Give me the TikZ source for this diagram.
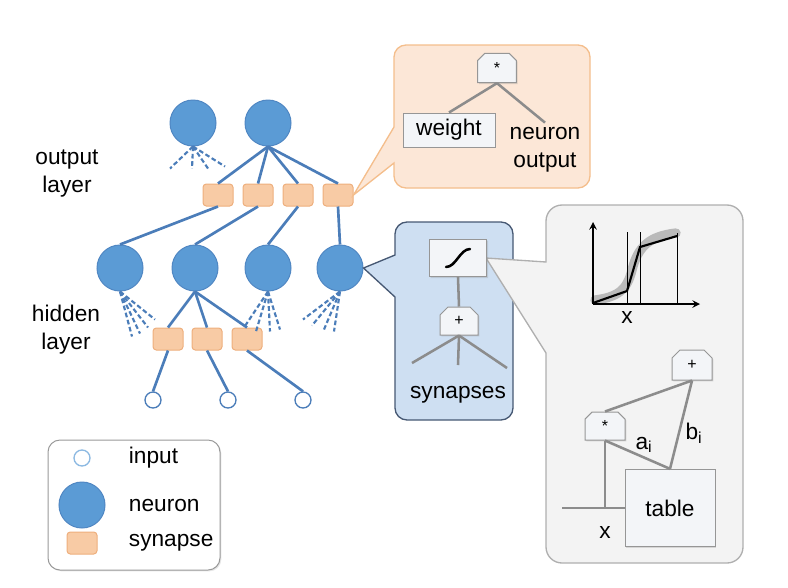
\documentclass[tikz,border=0pt]{standalone}
\usepackage{fontspec}
\setmainfont{Liberation Sans}
\usetikzlibrary{shapes.misc,shadows,calc}

\definecolor{neuronblue}{RGB}{91,155,213}
\definecolor{neuronedge}{RGB}{80,135,195}
\definecolor{linkblue}{RGB}{75,125,185}
\definecolor{synfill}{RGB}{248,203,165}
\definecolor{synedge}{RGB}{238,175,125}
\definecolor{orangefill}{RGB}{252,231,215}
\definecolor{orangeedge}{RGB}{244,190,140}
\definecolor{bluefill}{RGB}{206,223,242}
\definecolor{blueedge}{RGB}{70,88,115}
\definecolor{grayfill}{RGB}{243,243,243}
\definecolor{grayedge}{RGB}{175,175,175}
\definecolor{opfill}{RGB}{243,245,248}
\definecolor{opedge}{RGB}{150,150,150}
\definecolor{graylink}{RGB}{140,140,140}

\tikzset{every picture/.style={line width=0.75pt}}
\tikzset{
  neuron/.style={circle, fill=neuronblue, draw=neuronedge, minimum size=34.5pt, inner sep=0pt},
  inputcell/.style={circle, fill=white, draw=linkblue, line width=1pt, minimum size=12pt, inner sep=0pt},
  synapse/.style={rectangle, rounded corners=2.5pt, fill=synfill, draw=synedge, minimum width=22.5pt, minimum height=16.5pt, inner sep=0pt},
  link/.style={draw=linkblue, line width=2pt},
  stub/.style={draw=linkblue, line width=1.6pt, dash pattern=on 3.5pt off 2pt},
  opbox/.style={chamfered rectangle, chamfered rectangle corners={north west,north east}, chamfered rectangle xsep=3pt, chamfered rectangle ysep=3pt, fill=opfill, draw=opedge, minimum width=29pt, minimum height=22pt, inner sep=0pt, font=\fontsize{12}{14}\selectfont, drop shadow={opacity=0.25, shadow xshift=1pt, shadow yshift=-1pt}},
  plainbox/.style={rectangle, fill=opfill, draw=opedge, inner sep=0pt, drop shadow={opacity=0.25, shadow xshift=1pt, shadow yshift=-1pt}},
  oplink/.style={draw=graylink, line width=1.9pt},
  orangecall/.style={fill=orangefill, draw=orangeedge, line width=1pt},
  bluecall/.style={fill=bluefill, draw=blueedge, line width=1pt},
  graycall/.style={fill=grayfill, draw=grayedge, line width=1pt},
}

\begin{document}
\begin{tikzpicture}[x=0.75pt,y=0.75pt,yscale=-1,xscale=1, font=\fontsize{17}{21}\selectfont]
\useasboundingbox (0,0) rectangle (788,587);

% Neurons and synapses
\node[neuron] (out1) at (193,123) {};
\node[neuron] (out2) at (268,123) {};
\node[synapse] (syn1) at (218,195) {};
\node[synapse] (syn2) at (258,195) {};
\node[synapse] (syn3) at (298,195) {};
\node[synapse] (syn4) at (338,195) {};
\node[neuron] (hid1) at (120,268) {};
\node[neuron] (hid2) at (195,268) {};
\node[neuron] (hid3) at (268,268) {};
\node[neuron] (hid4) at (340,268) {};
\node[synapse] (hsyn1) at (168,339) {};
\node[synapse] (hsyn2) at (207,339) {};
\node[synapse] (hsyn3) at (247,339) {};
\node[inputcell] (in1) at (153,400) {};
\node[inputcell] (in2) at (228,400) {};
\node[inputcell] (in3) at (303,400) {};

% Links
\foreach \s in {syn1,syn2,syn3,syn4} \draw[link] (out2.south) -- (\s.north);
\draw[link] (syn1.south) -- (hid1.north);
\draw[link] (syn2.south) -- (hid2.north);
\draw[link] (syn3.south) -- (hid3.north);
\draw[link] (syn4.south) -- (hid4.north);
\foreach \s in {hsyn1,hsyn2,hsyn3} \draw[link] (hid2.south) -- (\s.north);
\draw[link] (hsyn1.south) -- (in1.north);
\draw[link] (hsyn2.south) -- (in2.north);
\draw[link] (hsyn3.south) -- (in3.north);

% Dashed stubs
\foreach \dx/\dy in {-23/22,-1/22,15/22,32/20} \draw[stub] (out1.south) -- ++(\dx,\dy);
\foreach \dx/\dy in {12/45,20/42,28/36,35/28} \draw[stub] (hid1.south) -- ++(\dx,\dy);
\foreach \dx/\dy in {-24/36,-12/40,2/40,12/38} \draw[stub] (hid3.south) -- ++(\dx,\dy);
\foreach \dx/\dy in {-37/28,-28/34,-16/38,-6/40} \draw[stub] (hid4.south) -- ++(\dx,\dy);

% Text Node
\node[align=center] (outlbl) at (67,174) {output\\layer};
% Text Node
\node[align=center] (hidlbl) at (66,330) {hidden\\layer};

% Callout: synapse
\draw[orangecall] (syn4.east) -- (394,127) [rounded corners=9pt] -- (394,45) -- (590,45) -- (590,188) -- (394,188) [sharp corners] -- (394,163) -- cycle;
\node[opbox] (star1) at (497,68) {*};
\node[plainbox, minimum width=69pt, minimum height=25.5pt] (weight) at (449,130) {weight};
\node[align=center] (nout) at (545,150) {neuron\\output};
\draw[oplink] (star1.south) -- (weight.north);
\draw[oplink] (star1.south) -- (nout.north);

% Callout: neuron
\draw[bluecall] (hid4.east) -- (395,255) [rounded corners=9pt] -- (395,222) -- (513,222) -- (513,420) -- (395,420) [sharp corners] -- (395,297) -- cycle;

% Callout: activation
\draw[graycall] (486,258) -- (546,262) [rounded corners=12pt] -- (546,205) -- (743,205) -- (743,563) -- (546,563) [sharp corners] -- (546,353) -- cycle;

\node[opbox, minimum width=43pt, minimum height=28pt] (sig) at (458,258) {};
\draw[line width=1.9pt, line cap=round] ($(sig)+(-12,9)$) .. controls ($(sig)+(-2,9)$) and ($(sig)+(2,-9)$) .. ($(sig)+(12,-9)$);
\node[opbox, minimum width=28.5pt, minimum height=21pt] (plus1) at (459,321) {+};
\coordinate (syA) at (412,363);
\coordinate (syB) at (458,365);
\coordinate (syC) at (507,368);
\draw[oplink] (sig.south) -- (plus1.north);
\foreach \c in {syA,syB,syC} \draw[oplink] (plus1.south) -- (\c);
\node (synlbl) at (458,395) {synapses};

% Plot
\draw[line width=7pt, draw=black!45, opacity=0.55, line cap=round] (595,300) .. controls (618,297) and (627,290) .. (632,270) .. controls (638,246) and (650,236) .. (676,233);
\draw[line width=1.6pt] (593,303) -- (627,291) -- (640,247) -- (677,236);
\draw (627,232) -- (627,304);
\draw (640,232) -- (640,304);
\draw (677,233) -- (677,304);
\draw[line width=1.5pt, ->, >=stealth] (593,304) -- (593,222);
\draw[line width=1.5pt, ->, >=stealth] (593,304) -- (700,304);
\node (plotx) at (627,318) {x};

% Lookup tree
\node[opbox, minimum width=30pt, minimum height=22.5pt] (plus2) at (692,365) {+};
\node[opbox, minimum width=30pt, minimum height=21pt] (star2) at (605,426) {*};
\node[plainbox, minimum width=67.5pt, minimum height=58pt] (table) at (670,508) {table};
\coordinate (xin) at (562,508);
\draw[oplink] (star2.north) -- (plus2.south);
\draw[oplink] (plus2.south) -- (table.north);
\draw[oplink] (star2.south) -- (table.north);
\draw[oplink] (star2.south) -- (star2.south |- table.west);
\draw[oplink] (xin) -- (table.west);
\node (alab) at (644,445) {a\textsubscript{i}};
\node (blab) at (694,433) {b\textsubscript{i}};
\node (tabx) at (605,532) {x};

% Legend
\draw[draw=black!40, fill=white, rounded corners=9pt, drop shadow={opacity=0.2, shadow xshift=1pt, shadow yshift=-1pt}] (48,440) rectangle (220,570);
\node[inputcell, draw=neuronblue!70] (leginput) at (82,458) {};
\node[neuron] (legneuron) at (82,505) {};
\node[synapse] (legsyn) at (82,543) {};
\node[anchor=west] (leginputlbl) at (124,458) {input};
\node[anchor=west] (legneuronlbl) at (124,505) {neuron};
\node[anchor=west] (legsynlbl) at (124,543) {synapse};

\end{tikzpicture}
\end{document}
